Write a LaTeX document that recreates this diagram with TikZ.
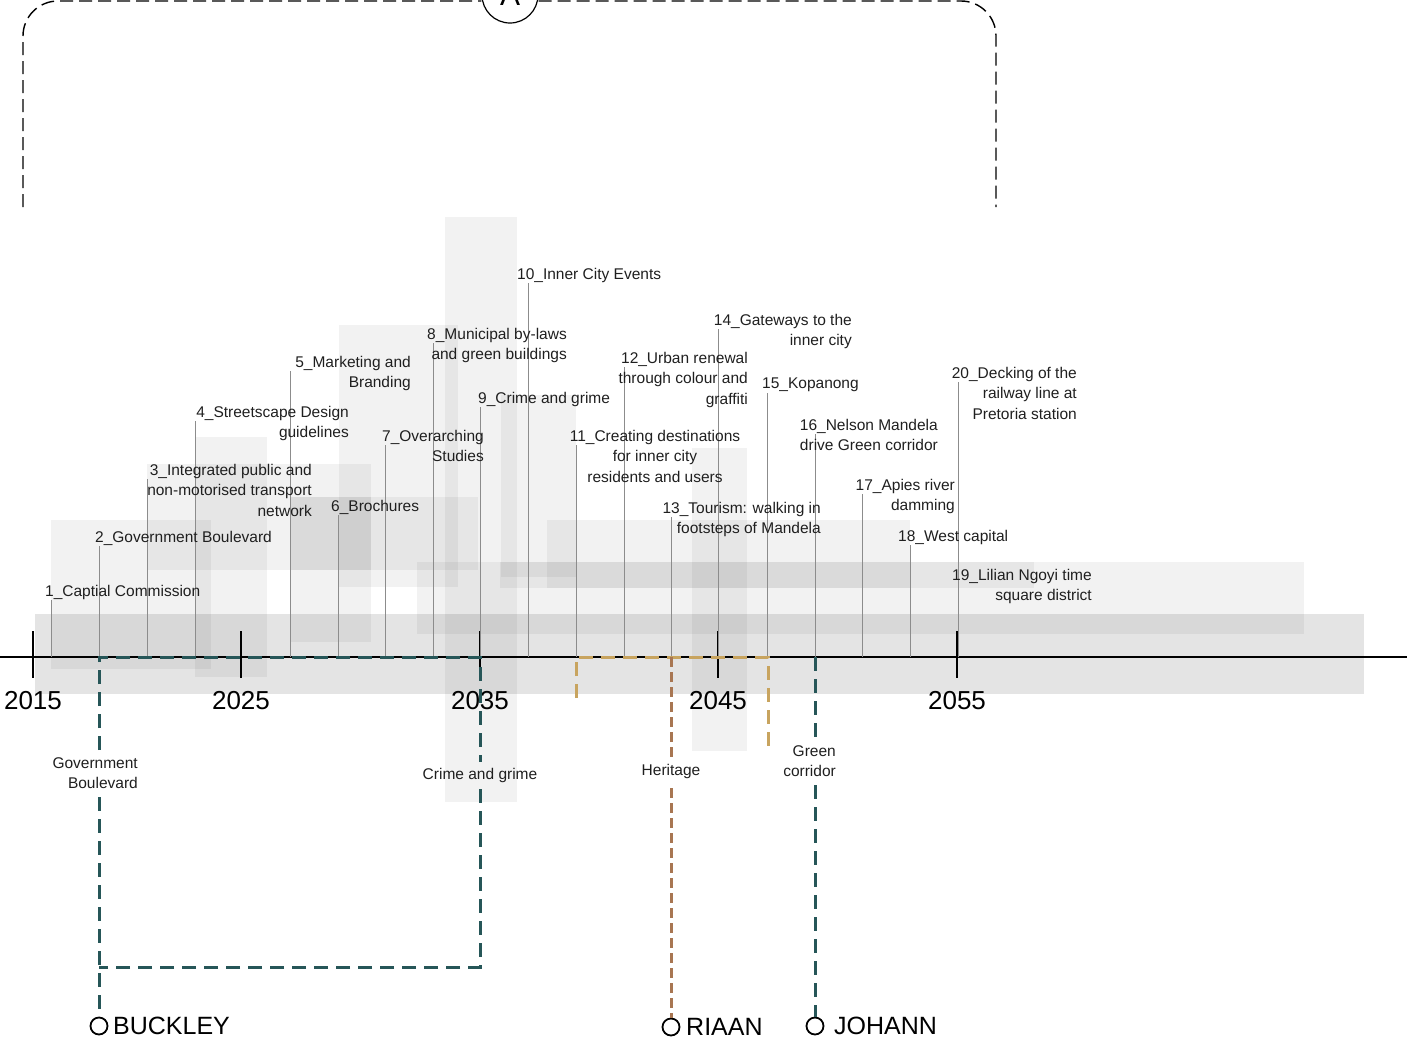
\documentclass[tikz,border=0pt]{standalone}
\usepackage{fontspec}
\setmainfont{Liberation Sans}
\definecolor{tealc}{RGB}{38,86,88}
\definecolor{brownc}{RGB}{168,118,82}
\definecolor{goldc}{RGB}{200,164,95}
\begin{document}
\begin{tikzpicture}[x=1pt,y=-1pt,
  box/.style={fill=black, fill opacity=0.05, draw=none},
  band/.style={fill=black, fill opacity=0.105, draw=none},
  evline/.style={draw=black!45, line width=1pt},
  lbl/.style={font=\fontsize{15.5}{20.5}\selectfont, inner sep=0pt, text=black!88},
  yrlbl/.style={font=\fontsize{26}{30}\selectfont, inner sep=0pt},
  nmlbl/.style={font=\fontsize{25}{30}\selectfont, inner sep=0pt},
  tickmark/.style={draw=black, line width=2.3pt},
  tealdash/.style={draw=tealc, line width=3pt, dash pattern=on 14pt off 8pt},
  browndash/.style={draw=brownc, line width=3pt, dash pattern=on 10pt off 5pt},
  golddash/.style={draw=goldc, line width=3pt, dash pattern=on 14pt off 8pt},
  framedash/.style={draw=black, line width=1.4pt, dash pattern=on 13pt off 6pt},
  endcircle/.style={circle, draw=black, line width=1.8pt, minimum size=17pt, inner sep=0pt}
]
\useasboundingbox (0,0) rectangle (1407,1055);

% ---------- grey duration boxes ----------
\fill[band] (35,614) rectangle (1364,694);
\foreach \a/\b/\c/\d in {
  51/520/211/669, 195/437/267/677, 147/464/371/570, 290/497/371/642,
  290/497/478/570, 339/325/458/587, 445/217/517/802, 501/395/576/577,
  547/520/910/588, 500/562/1034/588, 417/562/1304/634, 692/448/747/751}
  \fill[box] (\a,\b) rectangle (\c,\d);

% ---------- top dashed frame ----------
\coordinate (fl) at (23,207);
\coordinate (fr) at (996,207);
\node[circle, draw=black, line width=1.2pt, minimum size=56pt, inner sep=0pt,
      font=\fontsize{30}{30}\selectfont] (A) at (510,-5) {A};
\draw[framedash, rounded corners=35pt] (fl) -- (23,1) -- (A.west |- 0,1);
\draw[framedash, rounded corners=35pt] (A.east |- 0,1) -- (996,1) -- (fr);

% ---------- timeline ----------
\coordinate (tl0) at (0,657);
\coordinate (tl1) at (1197,657);
\coordinate (tl2) at (1407,657);
\draw[black, line width=2.6pt] (tl0) -- (tl1);
\draw[black, line width=1.5pt] (tl1) -- (tl2);
\foreach \x/\yr in {33/2015, 241/2025, 480/2035, 718/2045, 957/2055}{
  \draw[tickmark] (\x,631) -- (\x,678);
  \node[yrlbl] (y\yr) at (\x,701) {\yr};
}

% ---------- event lines ----------
\foreach \n/\x/\t in {1/51/600, 2/99/546, 3/147/479, 4/195/421, 5/290/371,
  6/338/515, 7/385/445, 8/433/343, 9/480/407, 10/528/283, 11/576/445,
  12/624/367, 13/671/517, 14/718/329, 15/767/393, 16/815/434, 17/862/494,
  18/910/545, 19/958/584, 20/958/382}{
  \coordinate (et\n) at (\x,\t);
  \coordinate (eb\n) at (\x,657);
  \draw[evline] (et\n) -- (eb\n);
}

% ---------- event labels ----------
\node[lbl, anchor=north west] (l1) at (45,585) {1\_Captial Commission};
\node[lbl, anchor=north west] (l2) at (95,531) {2\_Government Boulevard};
\node[lbl, anchor=north east, align=right] (l3) at (312,464) {3\_Integrated public and\\non-motorised transport\\network};
\node[lbl, anchor=north east, align=right] (l4) at (349,406) {4\_Streetscape Design\\guidelines};
\node[lbl, anchor=north east, align=right] (l5) at (411,356) {5\_Marketing and\\Branding};
\node[lbl, anchor=north west] (l6) at (331,500) {6\_Brochures};
\node[lbl, anchor=north east, align=right] (l7) at (484,430) {7\_Overarching\\Studies};
\node[lbl, anchor=north east, align=right] (l8) at (567,328) {8\_Municipal by-laws\\and green buildings};
\node[lbl, anchor=north west] (l9) at (478,392) {9\_Crime and grime};
\node[lbl, anchor=north west] (l10) at (517,268) {10\_Inner City Events};
\node[lbl, anchor=north, align=center] (l11) at (655,430) {11\_Creating destinations\\for inner city\\residents and users};
\node[lbl, anchor=north east, align=right] (l12) at (748,352) {12\_Urban renewal\\through colour and\\graffiti};
\node[lbl, anchor=north east, align=right] (l13) at (821,502) {13\_Tourism: walking in\\footsteps of Mandela};
\node[lbl, anchor=north east, align=right] (l14) at (852,314) {14\_Gateways to the\\inner city};
\node[lbl, anchor=north west] (l15) at (762,378) {15\_Kopanong};
\node[lbl, anchor=north east, align=right] (l16) at (938,419) {16\_Nelson Mandela\\drive Green corridor};
\node[lbl, anchor=north east, align=right] (l17) at (955,479) {17\_Apies river\\damming};
\node[lbl, anchor=north west] (l18) at (898,530) {18\_West capital};
\node[lbl, anchor=north east, align=right] (l19) at (1092,569) {19\_Lilian Ngoyi time\\square district};
\node[lbl, anchor=north east, align=right] (l20) at (1077,367) {20\_Decking of the\\railway line at\\Pretoria station};

% ---------- people / themes ----------
\node[lbl, anchor=north east, align=right] (gb) at (138,757) {Government\\Boulevard};
\node[lbl] (cg) at (480,775) {Crime and grime};
\node[lbl] (her) at (671,771) {Heritage};
\node[lbl, anchor=north east, align=right] (gc) at (836,745) {Green\\corridor};

\node[endcircle] (cb) at (99,1026) {};
\node[endcircle] (cr) at (671,1027) {};
\node[endcircle] (cj) at (815,1026) {};
\node[nmlbl, anchor=west] (nb) at (113,1026) {BUCKLEY};
\node[nmlbl, anchor=west] (nr) at (686,1027) {RIAAN};
\node[nmlbl, anchor=west] (nj) at (834,1026) {JOHANN};

% BUCKLEY loop
\coordinate (b1) at (99,657);
\coordinate (b2) at (480,657);
\coordinate (b3) at (480,967);
\coordinate (b4) at (99,967);
\draw[tealdash] (99,750) -- (b1) -- (b2) -- (480,762);
\draw[tealdash] (480,789) -- (b3) -- (b4);
\draw[tealdash] (99,797) -- (cb.north);

% gold bracket
\coordinate (g1) at (576,657);
\coordinate (g2) at (768,657);
\draw[golddash] (576,698) -- (g1) -- (g2) -- (768,751);

% RIAAN
\coordinate (r0) at (671,657);
\draw[browndash] (r0) -- (671,757);
\draw[browndash] (671,788) -- (cr.north);

% JOHANN
\coordinate (j0) at (815,657);
\draw[tealdash] (j0) -- (815,739);
\draw[tealdash] (815,785) -- (cj.north);
\end{tikzpicture}
\end{document}
